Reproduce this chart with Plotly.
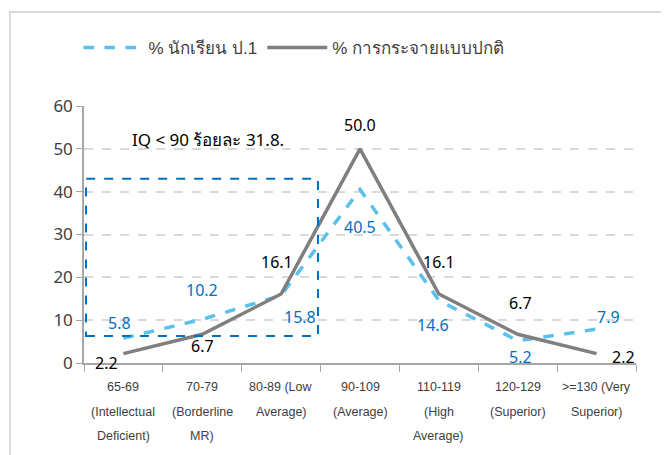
"""
IQ distribution chart: students vs normal distribution
"""
import plotly.graph_objects as go

categories = ["65-69", "70-79", "80-89", "90-109", "110-119", "120-129", ">=130"]
tick_lines = [
    ["65-69", "(Intellectual", "Deficient)"],
    ["70-79", "(Borderline", "MR)"],
    ["80-89 (Low", "Average)"],
    ["90-109", "(Average)"],
    ["110-119", "(High", "Average)"],
    ["120-129", "(Superior)"],
    [">=130 (Very", "Superior)"],
]
students = [5.8, 10.2, 15.8, 40.5, 14.6, 5.2, 7.9]
normal = [2.2, 6.7, 16.1, 50.0, 16.1, 6.7, 2.2]

name_students = "% นักเรียน ป.1"
name_normal = "% การกระจายแบบปกติ"
note_text = "IQ < 90 ร้อยละ 31.8."

# label offsets in pixels (dx, dy) relative to each point
students_off = [(-4, 15), (0, 29), (19, -22), (0, -37), (-6, -25), (3, -16), (12, 12)]
normal_off = [(-17, -9), (0, -12), (-4, 32), (0, 24), (0, 32), (3, 31), (27, -3)]

FONT = "Noto Sans, DejaVu Sans, sans-serif"
NARROW = "Liberation Sans, sans-serif"

fig = go.Figure()
fig.add_trace(go.Scatter(
    x=categories, y=students, name=name_students, mode="lines",
    line=dict(color="#5BC0EE", width=3.5, dash="dash"),
))
fig.add_trace(go.Scatter(
    x=categories, y=normal, name=name_normal, mode="lines",
    line=dict(color="#7F7F7F", width=3.5),
))

annotations = []
for c, v, (dx, dy) in zip(categories, students, students_off):
    annotations.append(dict(
        x=c, y=v, xref="x", yref="y", text=f"{v:.1f}", showarrow=False,
        xshift=dx, yshift=dy, font=dict(family=FONT, size=16, color="#0070C0"),
    ))
for c, v, (dx, dy) in zip(categories, normal, normal_off):
    annotations.append(dict(
        x=c, y=v, xref="x", yref="y", text=f"{v:.1f}", showarrow=False,
        xshift=dx, yshift=dy, font=dict(family=FONT, size=16, color="#000000"),
    ))
for c, lines in zip(categories, tick_lines):
    for i, t in enumerate(lines):
        annotations.append(dict(
            x=c, y=0, xref="x", yref="paper", text=t, showarrow=False,
            yanchor="middle", yshift=-24 - 24.5 * i,
            font=dict(family=NARROW, size=12.5, color="#404040"),
        ))
annotations.append(dict(
    x=1.07, y=52.1, xref="x", yref="y", text=note_text, showarrow=False,
    font=dict(family=FONT, size=17, color="#000000"),
))

fig.update_layout(
    width=669, height=455,
    margin=dict(l=76, r=41, t=98, b=100),
    plot_bgcolor="white", paper_bgcolor="white",
    showlegend=True,
    legend=dict(
        orientation="h", x=-0.01, xanchor="left", y=1.226, yanchor="middle",
        font=dict(family=NARROW, size=17, color="#404040"),
        bgcolor="rgba(0,0,0,0)", itemwidth=60,
    ),
    xaxis=dict(
        type="category", range=[-0.5, 6.5], showticklabels=False,
        tickson="boundaries", ticks="outside", ticklen=7, tickcolor="#A6A6A6",
        showline=True, linecolor="#A6A6A6", linewidth=1.5, showgrid=False,
    ),
    yaxis=dict(
        range=[0, 60], dtick=10, ticks="outside", ticklen=6, tickcolor="#A6A6A6",
        showline=True, linecolor="#A6A6A6", linewidth=1.5,
        gridcolor="#D9D9D9", griddash="dash", gridwidth=1.5, zeroline=False,
        tickfont=dict(family=FONT, size=17, color="#404040"),
    ),
    annotations=annotations,
    shapes=[
        dict(type="rect", xref="x", yref="y", x0=-0.475, x1=2.467, y0=6.3, y1=43.0,
             line=dict(color="#0070C0", width=2, dash="dash")),
        dict(type="rect", xref="paper", yref="paper", x0=-0.134, x1=1.2, y0=-0.6, y1=1.366,
             line=dict(color="#D9D9D9", width=2)),
    ],
)

fig.write_html("out.html")
